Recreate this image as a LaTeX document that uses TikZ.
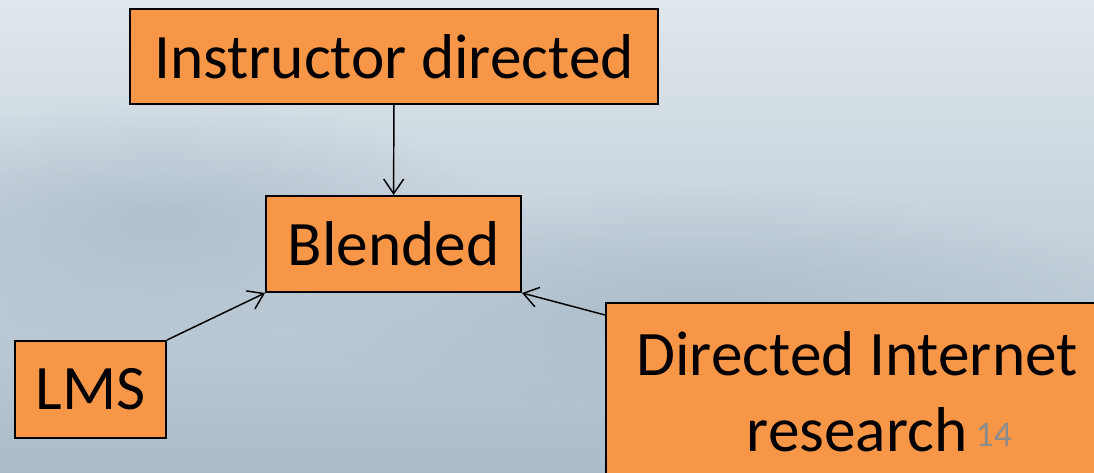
\documentclass[tikz,border=0pt]{standalone}
\usepackage{fontspec}
\setmainfont{Carlito}
\usepackage{tikz}
\usetikzlibrary{arrows.meta,positioning,fadings}
\usepackage{xcolor}
\definecolor{boxorange}{HTML}{F79646}
\definecolor{skytop}{HTML}{E0E7EC}
\definecolor{skymid}{HTML}{C6D2DB}
\definecolor{skylow}{HTML}{AABCCA}
\definecolor{hillblue}{HTML}{9DB0C1}
\definecolor{pagegray}{HTML}{8C8C8C}
\tikzfading[name=softblob,inner color=transparent!0,outer color=transparent!100]
\tikzset{
  topicbox/.style={draw=black,line width=1.5pt,fill=boxorange,inner sep=0pt,align=center,font=\fontsize{47.5}{57}\selectfont},
}

\begin{document}
\begin{tikzpicture}[x=0.75pt,y=-0.75pt,
    arrow/.style={-{Straight Barb[length=11pt,width=15pt]},line width=1.1pt},
  ]
    %────────── BACKGROUND ─────────
    \useasboundingbox (0,0) rectangle (1094,472);
    \shade[top color=skytop,middle color=skymid,bottom color=skylow] (0,0) rectangle (1094,472);
    \fill[hillblue,path fading=softblob,opacity=0.55] (160,220) ellipse (340 and 120);
    \fill[hillblue,path fading=softblob,opacity=0.5] (700,300) ellipse (420 and 110);

    %────────── SOURCES ────────────
    \node[topicbox,minimum width=396pt,minimum height=71.25pt] (instr) at (394,56.5) {Instructor directed};
    \node[topicbox,minimum width=113.25pt,minimum height=72.75pt] (lms) at (90.5,389.5) {LMS};
    \node[topicbox,minimum width=376.5pt,minimum height=133.5pt] (dir) at (857,392) {Directed Internet\\research};

    %────────── TARGET ─────────────
    \node[topicbox,minimum width=191.25pt,minimum height=72pt] (blend) at (393.5,244) {Blended};

    %────────── CONNECTORS ─────────
    \draw[arrow] (instr) -- (blend);
    \draw[arrow] (lms.north east) -- (blend.south west);
    \draw[arrow] (dir.163) -- (blend.south east);

    %────────── PAGE NUMBER ────────
    \node[font=\fontsize{27}{32}\selectfont,text=pagegray,anchor=base west] (pagenum) at (971,446) {14};
  \end{tikzpicture}
\end{document}
